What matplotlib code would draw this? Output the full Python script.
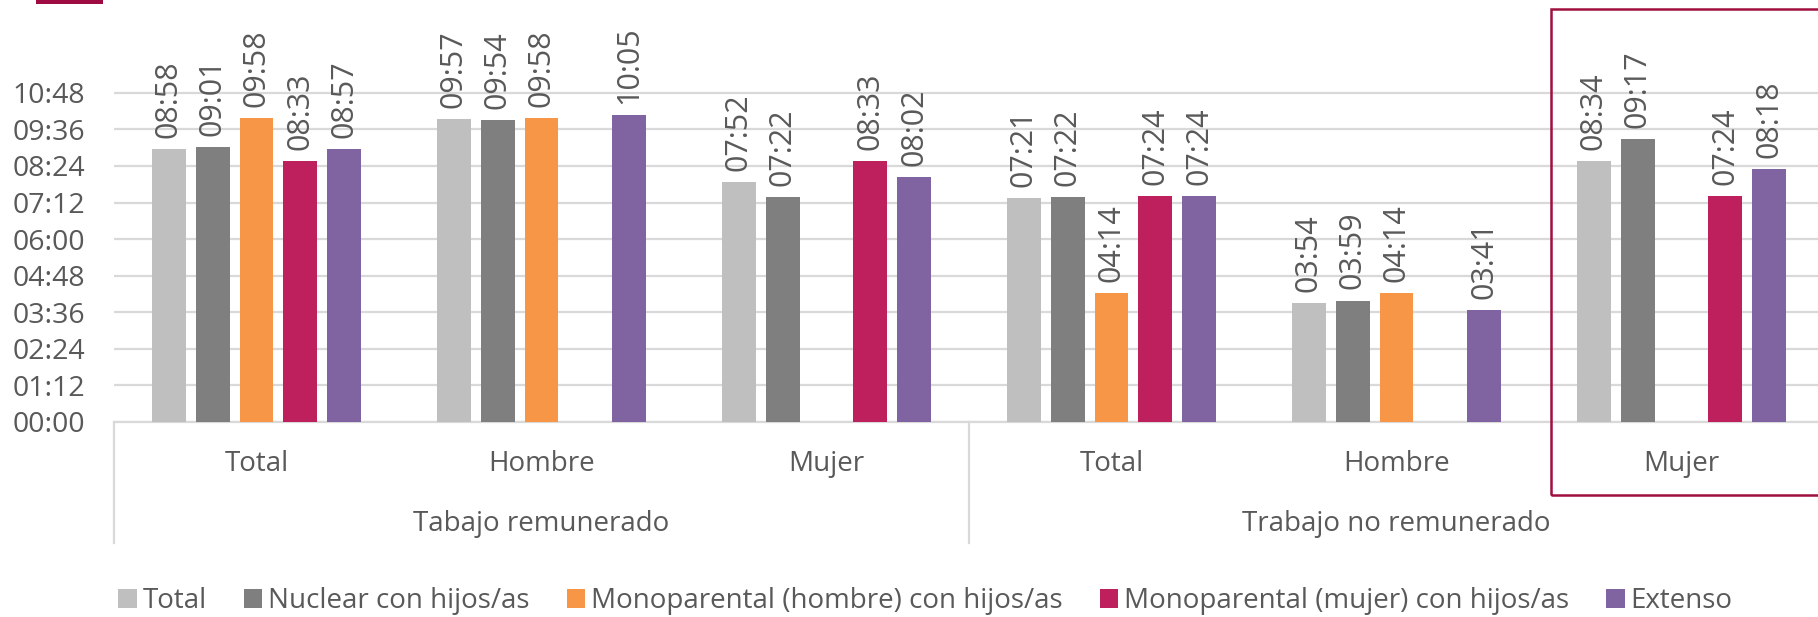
import matplotlib
matplotlib.use('Agg')
import matplotlib.pyplot as plt
import numpy as np
from matplotlib.patches import Rectangle, Patch

# ---------------- data ----------------
groups = ['Tabajo remunerado', 'Trabajo no remunerado']
subcats = ['Total', 'Hombre', 'Mujer']
series_names = ['Total', 'Nuclear con hijos/as', 'Monoparental (hombre) con hijos/as',
                'Monoparental (mujer) con hijos/as', 'Extenso']
colors = ['#BFBFBF', '#7F7F7F', '#F79646', '#BE1F5D', '#8064A2']

total   = ['08:58', '09:57', '07:52', '07:21', '03:54', '08:34']
nuclear = ['09:01', '09:54', '07:22', '07:22', '03:59', '09:17']
mono_h  = ['09:58', '09:58', None,    '04:14', '04:14', None]
mono_m  = ['08:33', None,    '08:33', '07:24', None,    '07:24']
extenso = ['08:57', '10:05', '08:02', '07:24', '03:41', '08:18']

y_ticks_hours = np.arange(0, 10.81, 1.2)

series = [total, nuclear, mono_h, mono_m, extenso]


def to_hours(s):
    if s is None:
        return None
    h, m = s.split(':')
    return int(h) + int(m) / 60.0


def fmt_hm(v):
    tot = int(round(v * 60))
    return '%02d:%02d' % (tot // 60, tot % 60)


# ---------------- style ----------------
plt.rcParams['font.family'] = ['Open Sans', 'DejaVu Sans']
txt_color = '#595959'
grid_color = '#D9D9D9'
FS = 20
FS_TICK = 20.5
FS_LAB = 22
FS_LEG = 20

W, H = 1818, 617
fig = plt.figure(figsize=(W / 100, H / 100), dpi=100)

base_px = 422
ax = fig.add_axes([114 / W, (H - base_px) / H, 1710 / W, base_px / H])
px_per_hour = 30.48
ax.set_ylim(0, base_px / px_per_hour)
ncat = len(subcats) * len(groups)
ax.set_xlim(-0.5, ncat - 0.5)

slot = 0.1537
bw = 0.119
xs = np.arange(ncat)
for i, (vals, col) in enumerate(zip(series, colors)):
    off = (i - (len(series) - 1) / 2) * slot
    for j, s in enumerate(vals):
        v = to_hours(s)
        if v is None:
            continue
        ax.bar(xs[j] + off, v, width=bw, color=col, zorder=3)
        ax.annotate(s, (xs[j] + off, v), xytext=(0, 8), textcoords='offset points',
                    rotation=90, ha='center', va='bottom', fontsize=FS_LAB, color=txt_color)

# grid / axes
ax.set_yticks(y_ticks_hours)
ax.set_yticklabels([fmt_hm(v) for v in y_ticks_hours])
ax.tick_params(axis='y', length=0, pad=21, labelsize=FS_TICK, labelcolor=txt_color)
ax.grid(axis='y', color=grid_color, linewidth=1.6, zorder=0)
ax.set_axisbelow(True)
for sp in ['top', 'right', 'left']:
    ax.spines[sp].set_visible(False)
ax.spines['bottom'].set_color(grid_color)
ax.spines['bottom'].set_linewidth(1.6)
ax.set_xticks([])

# multi-level category labels
tr = ax.get_xaxis_transform()
for j in range(ncat):
    ax.text(xs[j], -42 / base_px, subcats[j % len(subcats)], transform=tr,
            ha='center', va='center', fontsize=FS, color=txt_color)
for g, name in enumerate(groups):
    c = g * len(subcats) + (len(subcats) - 1) / 2
    ax.text(c, -102 / base_px, name, transform=tr, ha='center', va='center',
            fontsize=FS, color=txt_color)
for g in range(len(groups) + 1):
    xb = g * len(subcats) - 0.5
    ax.plot([xb, xb], [0, -121 / base_px], transform=tr, color=grid_color,
            linewidth=1.6, clip_on=False)

# highlight box and small top-left mark
fig.patches.append(Rectangle((1551 / W, 1 - 495 / H), (1830 - 1551) / W, (495 - 9) / H,
                             transform=fig.transFigure, fill=False,
                             edgecolor='#A0103F', linewidth=1.8))
fig.patches.append(Rectangle((36 / W, 1 - 4 / H), (103 - 36) / W, 4 / H,
                             transform=fig.transFigure, facecolor='#9E0B42',
                             edgecolor='none'))

# legend
handles = [Patch(facecolor=c, edgecolor='none') for c in colors]
leg = fig.legend(handles, series_names, loc='center', bbox_to_anchor=(0.509, 1 - 601 / H),
                 ncol=5, frameon=False, fontsize=FS_LEG, handlelength=0.66, handleheight=0.66,
                 handletextpad=0.2, columnspacing=1.35)
for t in leg.get_texts():
    t.set_color(txt_color)

fig.savefig('out.png', dpi=100)
